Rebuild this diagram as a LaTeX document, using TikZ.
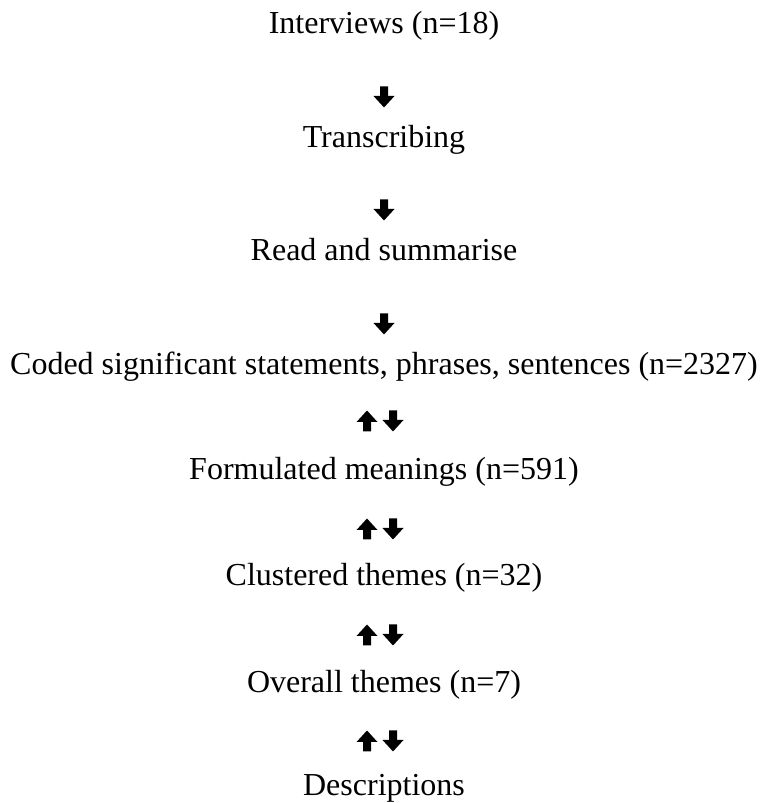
\documentclass[tikz,border=0pt]{standalone}
\usepackage{fontspec}
\setmainfont{Liberation Serif}
\tikzset{
  lbl/.style={font=\fontsize{32}{36}\selectfont, inner sep=0pt, anchor=base},
  dnarrow/.pic={\fill[black] (-4,10.5) -- (4,10.5) -- (4,1) -- (10.5,1) -- (0,-10.5) -- (-10.5,1) -- (-4,1) -- cycle;},
  uparrow/.pic={\fill[black] (-4,-10.5) -- (4,-10.5) -- (4,-1) -- (10.5,-1) -- (0,10.5) -- (-10.5,-1) -- (-4,-1) -- cycle;}
}
\begin{document}
\begin{tikzpicture}[x=1pt,y=1pt]
\useasboundingbox (0,0) rectangle (768,803);
\node[lbl] (t1) at (384,769) {Interviews (n=18)};
\node[lbl] (t2) at (384,655) {Transcribing};
\node[lbl] (t3) at (384,542) {Read and summarise};
\node[lbl] (t4) at (384,428) {Coded significant statements, phrases, sentences (n=2327)};
\node[lbl] (t5) at (384,323) {Formulated meanings (n=591)};
\node[lbl] (t6) at (384,217) {Clustered themes (n=32)};
\node[lbl] (t7) at (384,110) {Overall themes (n=7)};
\node[lbl] (t8) at (384,7) {Descriptions};
\pic at (384,706) {dnarrow};
\pic at (384,593) {dnarrow};
\pic at (384,479) {dnarrow};
\pic at (367,382) {uparrow};
\pic at (393,382) {dnarrow};
\pic at (367,274) {uparrow};
\pic at (393,274) {dnarrow};
\pic at (367,168) {uparrow};
\pic at (393,168) {dnarrow};
\pic at (367,62) {uparrow};
\pic at (393,62) {dnarrow};
\end{tikzpicture}
\end{document}
